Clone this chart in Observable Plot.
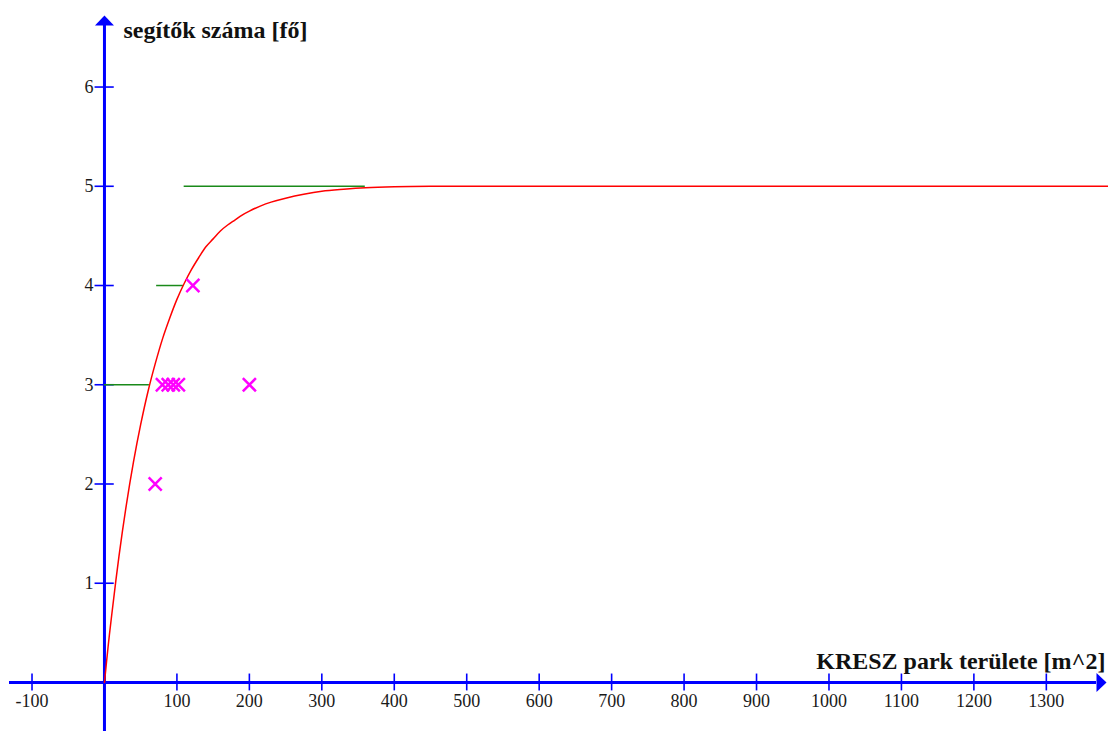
<!DOCTYPE html>
<html>
<head>
<meta charset="utf-8">
<script src="https://cdn.jsdelivr.net/npm/d3@7"></script>
<script src="https://cdn.jsdelivr.net/npm/@observablehq/plot@0.6"></script>
<style>
  html, body { margin: 0; padding: 0; background: #fff; }
  svg { display: block; }
</style>
</head>
<body>
<div id="chart"></div>
<script>
// ---- data ----
const xTicks = [-100, 100, 200, 300, 400, 500, 600, 700, 800, 900, 1000, 1100, 1200, 1300];
const yTicks = [1, 2, 3, 4, 5, 6];

// red fitted curve
const curveX = [0, 5, 10, 20, 30, 40, 50, 60, 70, 80, 90, 100, 110, 120, 130, 140, 150, 160, 170, 180, 190, 200, 215, 230, 250, 275, 300, 330, 360, 400, 450, 500, 1390];
const curveY = [0, 0.36, 0.68, 1.27, 1.78, 2.22, 2.60, 2.93, 3.21, 3.46, 3.67, 3.86, 4.02, 4.16, 4.28, 4.39, 4.47, 4.55, 4.61, 4.66, 4.71, 4.75, 4.80, 4.84, 4.88, 4.92, 4.95, 4.97, 4.985, 4.995, 5.0, 5.0, 5.0];

// green horizontal segments
const segY  = [3, 4, 5];
const segX1 = [0, 72, 110];
const segX2 = [62, 109, 360];

// magenta observations
const obsX = [70, 80, 88, 95, 102, 122, 200];
const obsY = [2, 3, 3, 3, 3, 4, 3];

const xLabel = "KRESZ park területe [m^2]";
const yLabel = "segítők száma [fő]";

// ---- build tables ----
const curve = curveX.map((x, i) => ({x, y: curveY[i]}));
const segs = segY.map((y, i) => ({y, x1: segX1[i], x2: segX2[i]}));
const obs = obsX.map((x, i) => ({x, y: obsY[i]}));

const W = 1108, H = 731;
const blue = "#0000ff";
const serif = "'Liberation Serif', 'DejaVu Serif', serif";

const arrowUp = {draw(ctx) { ctx.moveTo(0, -10); ctx.lineTo(9.5, 0); ctx.lineTo(-9.5, 0); ctx.closePath(); }};
const arrowRight = {draw(ctx) { ctx.moveTo(10, 0); ctx.lineTo(0, 9.5); ctx.lineTo(0, -9.5); ctx.closePath(); }};

const chart = Plot.plot({
  width: W,
  height: H,
  margin: 0,
  x: {domain: [-143.5, 1385.8], axis: null},
  y: {domain: [-0.494, 6.872], axis: null},
  style: {background: "#fff", overflow: "visible"},
  marks: [
    // axes
    Plot.ruleY([0], {stroke: blue, strokeWidth: 3, insetLeft: 9, insetRight: 12}),
    Plot.ruleX([0], {stroke: blue, strokeWidth: 3, insetTop: 24}),
    Plot.dot([0], {x: d => d, frameAnchor: "top", dy: 25, symbol: arrowUp, fill: blue, stroke: null}),
    Plot.dot([0], {y: d => d, frameAnchor: "right", dx: -12, symbol: arrowRight, fill: blue, stroke: null}),
    // ticks
    Plot.ruleX(xTicks, {x: d => d, y1: -0.085, y2: 0.085, stroke: blue, strokeWidth: 1.6}),
    Plot.ruleY(yTicks, {y: d => d, x1: -13, x2: 13.5, stroke: blue, strokeWidth: 1.6}),
    Plot.text(xTicks, {x: d => d, y: 0, dy: 19, text: d => String(d), fontFamily: serif, fontSize: 18, fill: "#1a1a1a", lineAnchor: "middle"}),
    Plot.text(yTicks, {x: 0, y: d => d, dx: -11, text: d => String(d), fontFamily: serif, fontSize: 18, fill: "#1a1a1a", textAnchor: "end", lineAnchor: "middle"}),
    // axis titles
    Plot.text([yLabel], {text: d => d, frameAnchor: "top-left", dx: 123, dy: 37, textAnchor: "start", lineAnchor: "bottom", fontFamily: serif, fontSize: 24, fontWeight: "bold", fill: "#111"}),
    Plot.text([xLabel], {text: d => d, frameAnchor: "bottom-right", dx: -3, dy: -63, textAnchor: "end", lineAnchor: "bottom", fontFamily: serif, fontSize: 24, fontWeight: "bold", fill: "#111"}),
    // green segments
    Plot.ruleY(segs, {y: "y", x1: "x1", x2: "x2", stroke: "#1a8a1a", strokeWidth: 1.5}),
    // red curve
    Plot.line(curve, {x: "x", y: "y", stroke: "#ff0000", strokeWidth: 1.5, curve: "catmull-rom"}),
    // observations
    Plot.dot(obs, {x: "x", y: "y", symbol: "times", r: 6, stroke: "#ff00ff", strokeWidth: 2.5})
  ]
});
document.getElementById("chart").append(chart);
</script>
</body>
</html>
